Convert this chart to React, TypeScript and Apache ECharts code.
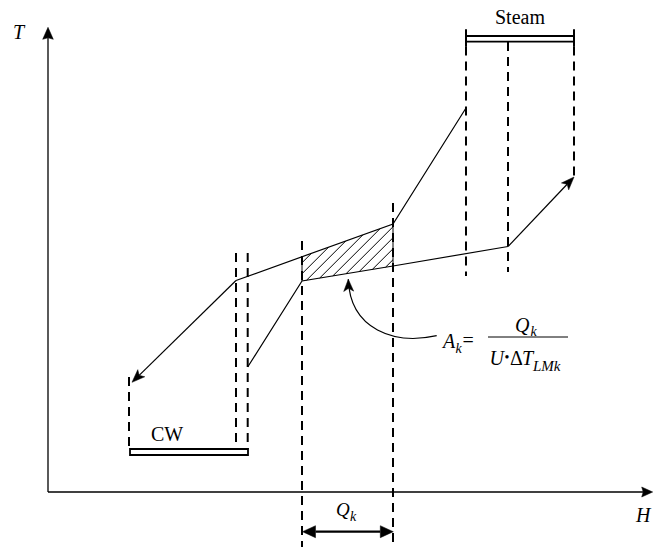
import React, { useEffect, useRef } from "react";
import * as echarts from "echarts";

// Coordinates in (H, T) units, origin at the axes' corner.
const hAxisTip = 604.7;
const tAxisTip = 464.7;

// Composite curves
const upperCurve = [[418, 384], [345, 268], [188, 211.5]];
const upperArrow = [[188, 211.5], [84, 109.7]];
const lowerCurve = [[199.7, 125], [254, 211], [345, 226], [460, 245.5]];
const lowerArrow = [[460, 245.5], [526, 315]];

// Hatched interval k (polygon corners)
const hatchPolygon = [[254, 235.25], [345, 268], [345, 226], [254, 211]];

// Dashed guides: [H, T top, T bottom]
const guides = [
  [418, 445.5, 216],
  [460, 450, 220],
  [526, 445.5, 315],
  [254, 251, -55],
  [345, 289, -55],
  [81, 115, 43],
  [188, 239, 43],
  [199.7, 239, 43],
];

// Utility bars: [H from, H to, T upper, T lower]
const steamBar = [418, 526, 456, 450.3];
const steamCaps = [462.7, 445.3];
const cwBar = [82, 200, 43, 37];

// Qk span arrow: [H from, H to, T]
const qkSpan = [254.5, 345.3, -39.7];

// Curved pointer: start, control 1, control 2, tip
const pointer = [[388.7, 156.3], [347, 147], [302, 162], [300.3, 212.7]];

const FONT = "Liberation Serif";

function head(tip: number[], from: number[], L: number, w: number, notch: number) {
  const dx = tip[0] - from[0];
  const dy = tip[1] - from[1];
  const len = Math.hypot(dx, dy) || 1;
  const ux = dx / len, uy = dy / len;
  const px = -uy, py = ux;
  const bx = tip[0] - L * ux, by = tip[1] - L * uy;
  return {
    pts: [
      [tip[0], tip[1]],
      [bx + w * px, by + w * py],
      [tip[0] - (L - notch) * ux, tip[1] - (L - notch) * uy],
      [bx - w * px, by - w * py],
    ],
    neck: [tip[0] - (L - notch) * ux, tip[1] - (L - notch) * uy],
  };
}

function renderAll(_params: any, api: any) {
  const C = (p: number[]) => api.coord(p);
  const ch: any[] = [];
  const line = (a: number[], b: number[], lw: number, dash?: number[]) =>
    ch.push({
      type: "line",
      shape: { x1: a[0], y1: a[1], x2: b[0], y2: b[1] },
      style: { stroke: "#000", lineWidth: lw, lineDash: dash || null },
    });
  const poly = (pts: number[][]) =>
    ch.push({ type: "polygon", shape: { points: pts }, style: { fill: "#000", stroke: "#000", lineWidth: 0.5 } });
  const arrow = (from: number[], tip: number[], lw: number, L: number, w: number, n: number) => {
    const h = head(tip, from, L, w, n);
    line(from, h.neck, lw);
    poly(h.pts);
  };

  // Dashed guides
  guides.forEach((g) => line(C([g[0], g[1]]), C([g[0], g[2]]), 2, [9, 6]));

  // Hatch
  const hp = hatchPolygon.map(C);
  const sums = hp.map((p) => p[0] + p[1]);
  const cmin = Math.min(...sums), cmax = Math.max(...sums);
  for (let c = cmin + 6; c < cmax - 2; c += 11) {
    const xs: number[] = [];
    for (let i = 0; i < hp.length; i++) {
      const a = hp[i], b = hp[(i + 1) % hp.length];
      const sa = a[0] + a[1], sb = b[0] + b[1];
      if (sb === sa) continue;
      const s = (c - sa) / (sb - sa);
      if (s >= 0 && s <= 1) xs.push(a[0] + s * (b[0] - a[0]));
    }
    if (xs.length >= 2) {
      const x0 = Math.min(...xs), x1 = Math.max(...xs);
      line([x0, c - x0], [x1, c - x1], 1);
    }
  }
  line(hp[0], hp[3], 1);
  line(hp[1], hp[2], 1);

  // Curves
  ch.push({ type: "polyline", shape: { points: upperCurve.map(C) }, style: { stroke: "#000", lineWidth: 1.2, fill: null } });
  ch.push({ type: "polyline", shape: { points: lowerCurve.map(C) }, style: { stroke: "#000", lineWidth: 1.2, fill: null } });
  arrow(C(upperArrow[0]), C(upperArrow[1]), 1.2, 13, 5, 3);
  arrow(C(lowerArrow[0]), C(lowerArrow[1]), 1.2, 13, 5, 3);

  // Axes
  arrow(C([0, 0]), C([hAxisTip, 0]), 1.3, 11, 5, 1.5);
  arrow(C([0, 0]), C([0, tAxisTip]), 1.3, 12, 5.3, 1.5);

  // Steam bar
  const sA = C([steamBar[0], steamBar[2]]), sB = C([steamBar[1], steamBar[2]]);
  const sC = C([steamBar[0], steamBar[3]]), sD = C([steamBar[1], steamBar[3]]);
  line(sA, sB, 1.8);
  line(sC, sD, 1.8);
  line(C([steamBar[0], steamCaps[0]]), C([steamBar[0], steamCaps[1]]), 2);
  line(C([steamBar[1], steamCaps[0]]), C([steamBar[1], steamCaps[1]]), 2);

  // CW bar
  const c0 = C([cwBar[0], cwBar[2]]), c1 = C([cwBar[1], cwBar[3]]);
  ch.push({
    type: "rect",
    shape: { x: c0[0], y: c0[1], width: c1[0] - c0[0], height: c1[1] - c0[1] },
    style: { fill: "#fff", stroke: "#000", lineWidth: 1.8 },
  });

  // Qk double arrow
  const q0 = C([qkSpan[0], qkSpan[2]]), q1 = C([qkSpan[1], qkSpan[2]]);
  const h0 = head(q0, q1, 13, 6, 0), h1 = head(q1, q0, 13, 6, 0);
  line(h0.neck, h1.neck, 2.2);
  poly(h0.pts);
  poly(h1.pts);

  // Curved pointer
  const pp = pointer.map(C);
  ch.push({
    type: "bezierCurve",
    shape: { x1: pp[0][0], y1: pp[0][1], cpx1: pp[1][0], cpy1: pp[1][1], cpx2: pp[2][0], cpy2: pp[2][1], x2: pp[3][0], y2: pp[3][1] },
    style: { stroke: "#000", lineWidth: 1.2, fill: null },
  });
  poly(head(pp[3], pp[2], 12, 5, 3).pts);

  return { type: "group", children: ch };
}

function txt(text: string, x: number, y: number, size: number, italic: boolean, align = "left") {
  return {
    type: "text",
    x,
    y,
    silent: true,
    style: {
      text,
      fontFamily: FONT,
      fontSize: size,
      fontStyle: italic ? "italic" : "normal",
      fill: "#000",
      textAlign: align,
      textVerticalAlign: "middle",
    },
  };
}

export default function App() {
  const ref = useRef<HTMLDivElement>(null);
  useEffect(() => {
    if (!ref.current) return;
    const chart = echarts.init(ref.current, null, { renderer: "svg" });
    chart.setOption({
      animation: false,
      backgroundColor: "#fff",
      grid: { left: 0, right: 0, top: 0, bottom: 0 },
      xAxis: { type: "value", min: -48, max: 612, show: false },
      yAxis: { type: "value", min: -55, max: 492, show: false },
      series: [
        {
          type: "custom",
          coordinateSystem: "cartesian2d",
          data: [[0, 0]],
          renderItem: renderAll,
          clip: false,
          silent: true,
        },
      ],
      graphic: [
        txt("T", 13, 32, 20, true),
        txt("H", 636, 515, 20, true),
        txt("Steam", 520, 17, 20, false, "center"),
        txt("CW", 151, 433.5, 20, false),
        txt("Q", 336, 509, 19, true),
        txt("k", 350, 516, 14, true),
        txt("A", 443, 341, 20, true),
        txt("k", 455.5, 348, 14, true),
        txt("=", 462.5, 339.5, 20, false),
        {
          type: "line",
          shape: { x1: 488, y1: 337, x2: 568, y2: 337 },
          style: { stroke: "#000", lineWidth: 1 },
          silent: true,
        },
        txt("Q", 515, 324.5, 20, true),
        txt("k", 530.5, 331.5, 14, true),
        txt("U", 489.5, 357.5, 20, true),
        txt("•", 504.5, 357, 14, false),
        txt("Δ", 510, 357.5, 20, false),
        txt("T", 522, 357.5, 20, true),
        txt("LMk", 533, 366, 15, true),
      ],
    });
    return () => chart.dispose();
  }, []);
  return (
    <div
      ref={ref}
      style={{ position: "fixed", left: 0, top: 0, width: 660, height: 547 }}
    />
  );
}
